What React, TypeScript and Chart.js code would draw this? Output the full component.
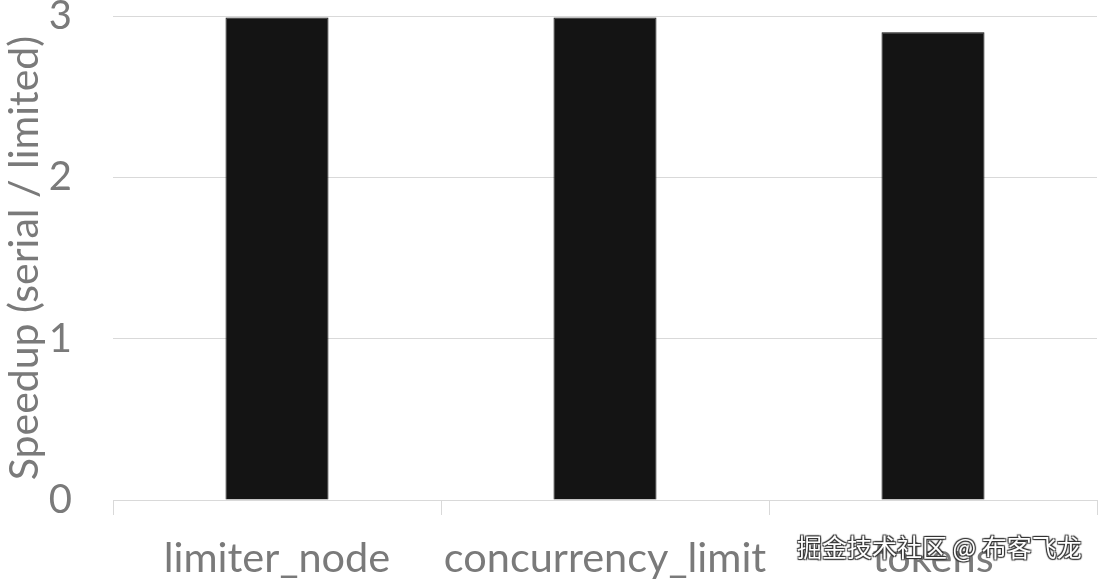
import { useEffect, useRef } from 'react';
import { Chart, registerables } from 'chart.js';

Chart.register(...registerables);

const categories = ['limiter_node', 'concurrency_limit', 'tokens'];
const speedups = [2.99, 2.99, 2.9];
const yTicks = [0, 1, 2, 3];

const textGray = '#7a7a7a';
const gridGray = '#d9d9d9';
const fontFamily = 'Lato, "Open Sans", sans-serif';

export default function App() {
  const canvasRef = useRef<HTMLCanvasElement>(null);
  const chartRef = useRef<Chart | null>(null);

  useEffect(() => {
    document.body.style.margin = '0';
    if (!canvasRef.current) return;
    const ctx = canvasRef.current.getContext('2d');
    if (!ctx) return;

    chartRef.current = new Chart(ctx, {
      type: 'bar',
      data: {
        labels: categories,
        datasets: [
          {
            label: 'Speedup',
            data: speedups,
            backgroundColor: '#141414',
            borderColor: '#0a0a0a',
            borderWidth: 1,
            categoryPercentage: 1,
            barPercentage: 0.314,
          },
        ],
      },
      options: {
        responsive: false,
        animation: false,
        layout: { padding: { top: 16, right: 3, left: 0, bottom: 0 } },
        plugins: {
          legend: { display: false },
          tooltip: { enabled: false },
        },
        scales: {
          x: {
            grid: {
              display: true,
              offset: true,
              drawOnChartArea: false,
              drawTicks: true,
              tickLength: 15,
              color: gridGray,
            },
            border: { display: false },
            ticks: {
              color: textGray,
              padding: 19,
              font: { family: fontFamily, size: 41.5 },
              maxRotation: 0,
            },
            afterFit: (scale: any) => {
              scale.height = 79;
              scale.paddingLeft = 0;
              scale.paddingRight = 0;
            },
          },
          y: {
            min: 0,
            max: 3,
            afterBuildTicks: (scale: any) => {
              scale.ticks = yTicks.map((v) => ({ value: v }));
            },
            grid: { color: gridGray, drawTicks: false, lineWidth: 1 },
            border: { display: false },
            ticks: {
              color: textGray,
              padding: 41,
              font: { family: fontFamily, size: 40 },
            },
            title: {
              display: true,
              text: 'Speedup (serial / limited)',
              color: textGray,
              font: { family: fontFamily, size: 41 },
              padding: { top: 0, bottom: 0 },
            },
            afterFit: (scale: any) => {
              scale.width = 113;
              scale.paddingTop = 0;
              scale.paddingBottom = 0;
            },
          },
        },
      },
    });

    return () => {
      if (chartRef.current) {
        chartRef.current.destroy();
        chartRef.current = null;
      }
    };
  }, []);

  return (
    <div style={{ position: 'relative', width: 1100, height: 579, background: '#fff' }}>
      <canvas ref={canvasRef} width={1100} height={579}></canvas>
      <div
        style={{
          position: 'absolute',
          left: 797,
          top: 529,
          fontFamily: '"Noto Sans CJK SC", sans-serif',
          fontSize: 25,
          lineHeight: '34px',
          color: '#fff',
          textShadow: '1px 1px 1px #333, -1px -1px 1px #333, 1px -1px 1px #333, -1px 1px 1px #333',
          whiteSpace: 'nowrap',
        }}
      >
        掘金技术社区 @ 布客飞龙
      </div>
    </div>
  );
}
